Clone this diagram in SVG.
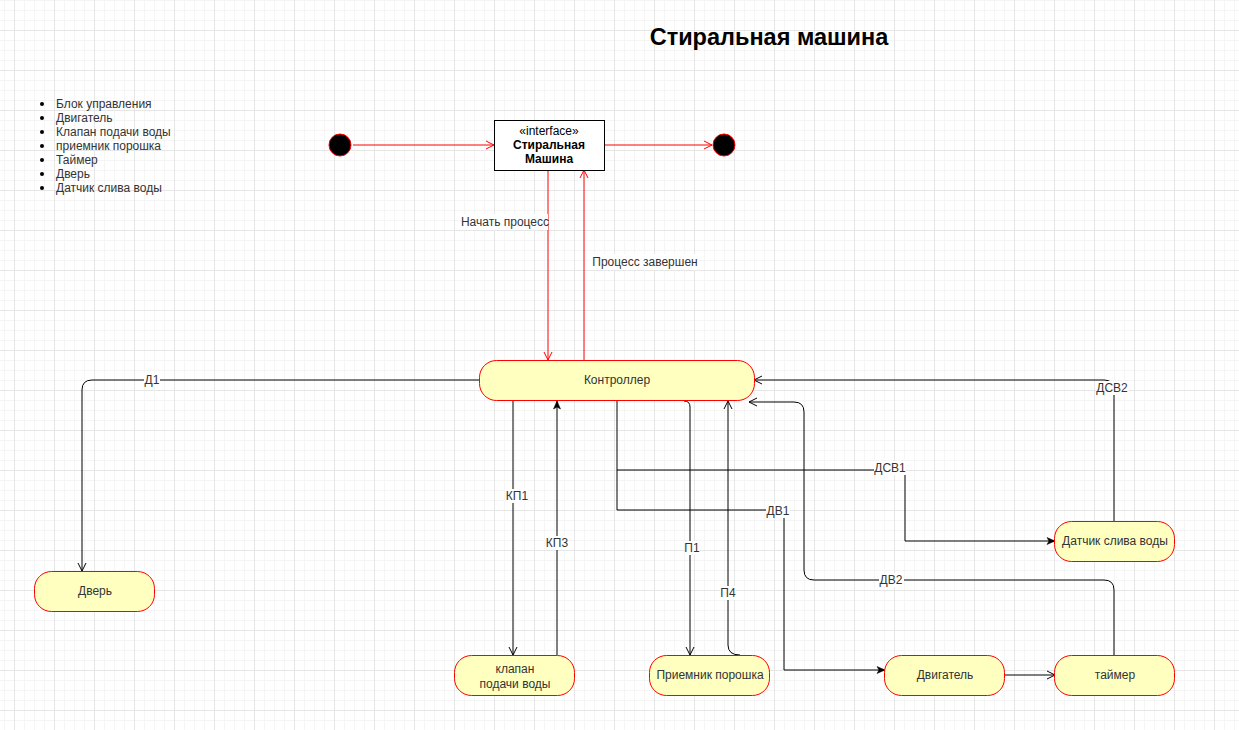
<svg xmlns="http://www.w3.org/2000/svg" width="1239" height="730" viewBox="0 0 1239 730">
<defs>
<pattern id="gMinor" x="4" y="0" width="10" height="10" patternUnits="userSpaceOnUse"><rect width="10" height="1" fill="#f5f5f5"/><rect width="1" height="10" fill="#f5f5f5"/></pattern>
<pattern id="gMajor" x="14" y="30" width="40" height="40" patternUnits="userSpaceOnUse"><rect width="40" height="1" fill="#e6e6e6"/><rect width="1" height="40" fill="#e6e6e6"/></pattern>
<marker id="openB" viewBox="0 0 10 10" refX="9" refY="5" markerWidth="10" markerHeight="10" markerUnits="userSpaceOnUse" orient="auto"><path d="M1 1 L9 5 L1 9" fill="none" stroke="#000" stroke-width="1"/></marker>
<marker id="openR" viewBox="0 0 10 10" refX="9" refY="5" markerWidth="10" markerHeight="10" markerUnits="userSpaceOnUse" orient="auto"><path d="M1 1 L9 5 L1 9" fill="none" stroke="#ff0000" stroke-width="1"/></marker>
<marker id="blockB" viewBox="0 0 10 10" refX="9" refY="5" markerWidth="10" markerHeight="10" markerUnits="userSpaceOnUse" orient="auto"><path d="M1 1.5 L9 5 L1 8.5 L3 5 Z" fill="#000" stroke="#000" stroke-width="0.5"/></marker>
</defs>
<style>
text{font-family:"Liberation Sans",Arial,sans-serif;font-size:12px;fill:#333}
.title{font-size:23.5px;font-weight:bold;fill:#000}
.bold{font-weight:bold;fill:#000}
.c{text-anchor:middle}
.state{fill:#ffffc0;stroke:#ff0000;stroke-width:1}
.edge{fill:none;stroke:#000;stroke-width:1}
.red{fill:none;stroke:#ff0000;stroke-width:1}
.lbg{fill:#fff}
</style>
<rect width="1239" height="730" fill="#fff"/>
<rect width="1239" height="730" fill="url(#gMinor)"/>
<rect width="1239" height="730" fill="url(#gMajor)"/>

<text class="title c" x="769" y="45">Стиральная машина</text>

<g id="list">
<circle cx="42" cy="104" r="2" fill="#000"/><text x="56" y="108">Блок управления</text>
<circle cx="42" cy="118" r="2" fill="#000"/><text x="56" y="122">Двигатель</text>
<circle cx="42" cy="132" r="2" fill="#000"/><text x="56" y="136">Клапан подачи воды</text>
<circle cx="42" cy="146" r="2" fill="#000"/><text x="56" y="150">приемник порошка</text>
<circle cx="42" cy="160" r="2" fill="#000"/><text x="56" y="164">Таймер</text>
<circle cx="42" cy="174" r="2" fill="#000"/><text x="56" y="178">Дверь</text>
<circle cx="42" cy="188" r="2" fill="#000"/><text x="56" y="192">Датчик слива воды</text>
</g>

<g id="connectors">
<path class="red" d="M353 145 H494" marker-end="url(#openR)"/>
<path class="red" d="M604 145 H712" marker-end="url(#openR)"/>
<path class="red" d="M548 170 V360" marker-end="url(#openR)"/>
<path class="red" d="M584 360 V170" marker-end="url(#openR)"/>
<path class="edge" d="M480 380 H92 Q82 380 82 390 V571" marker-end="url(#openB)"/>
<path class="edge" d="M513 401 V655" marker-end="url(#openB)"/>
<path class="edge" d="M557 655 V401" marker-end="url(#blockB)"/>
<path class="edge" d="M684 401 Q690 401 690 407 V655" marker-end="url(#openB)"/>
<path class="edge" d="M740 655 Q728 655 728 645 V401" marker-end="url(#openB)"/>
<path class="edge" d="M617 401 V470 H905 V541 H1055" marker-end="url(#blockB)"/>
<path class="edge" d="M617 470 V510 H784 V670 H885" marker-end="url(#blockB)"/>
<path class="edge" d="M1114 521 V390 Q1114 380 1104 380 H754" marker-end="url(#openB)"/>
<path class="edge" d="M1114 655 V590 Q1114 580 1104 580 H814 Q804 580 804 570 V412 Q804 402 794 402 H749" marker-end="url(#openB)"/>
<path class="edge" d="M1005 675 H1055" marker-end="url(#openB)"/>

<rect class="lbg" x="461" y="214" width="87" height="16"/><text class="c" x="505" y="226">Начать процесс</text>
<rect class="lbg" x="591" y="254" width="108" height="16"/><text class="c" x="645" y="266">Процесс завершен</text>
<rect class="lbg" x="144" y="373" width="16" height="14"/><text class="c" x="152" y="384">Д1</text>
<rect class="lbg" x="506" y="489" width="22" height="14"/><text class="c" x="517" y="500">КП1</text>
<rect class="lbg" x="546" y="536" width="22" height="14"/><text class="c" x="557" y="547">КП3</text>
<rect class="lbg" x="685" y="541" width="15" height="14"/><text class="c" x="692" y="552">П1</text>
<rect class="lbg" x="720" y="586" width="16" height="14"/><text class="c" x="728" y="597">П4</text>
<rect class="lbg" x="874" y="461" width="32" height="14"/><text class="c" x="890" y="472">ДСВ1</text>
<rect class="lbg" x="766" y="504" width="24" height="14"/><text class="c" x="778" y="515">ДВ1</text>
<rect class="lbg" x="879" y="573" width="25" height="14"/><text class="c" x="891" y="584">ДВ2</text>
<rect class="lbg" x="1096" y="381" width="33" height="14"/><text class="c" x="1112" y="392">ДСВ2</text>
</g>

<g id="start"><circle cx="340" cy="145" r="11" fill="#000" stroke="#ff0000"/></g>
<g id="end"><circle cx="724" cy="145" r="11" fill="#000" stroke="#ff0000"/></g>
<g id="iface">
<rect x="494.5" y="120.5" width="110" height="50" fill="#fff" stroke="#000"/>
<text class="c" x="549" y="135" style="fill:#000">«interface»</text>
<text class="c bold" x="549" y="149">Стиральная</text>
<text class="c bold" x="549" y="163">Машина</text>
</g>
<g id="controller"><rect class="state" x="479.5" y="360.5" width="275" height="40" rx="17"/><text class="c" x="617" y="384">Контроллер</text></g>
<g id="door"><rect class="state" x="34.5" y="571.5" width="120" height="40" rx="17"/><text class="c" x="95" y="595">Дверь</text></g>
<g id="valve"><rect class="state" x="454.5" y="655.5" width="120" height="40" rx="17"/><text class="c" x="515" y="673">клапан</text><text class="c" x="515" y="688">подачи воды</text></g>
<g id="powder"><rect class="state" x="649.5" y="655.5" width="120" height="40" rx="17"/><text class="c" x="710" y="679">Приемник порошка</text></g>
<g id="sensor"><rect class="state" x="1054.5" y="521.5" width="120" height="40" rx="17"/><text class="c" x="1115" y="545">Датчик слива воды</text></g>
<g id="motor"><rect class="state" x="884.5" y="655.5" width="120" height="40" rx="17"/><text class="c" x="945" y="679">Двигатель</text></g>
<g id="timer"><rect class="state" x="1054.5" y="655.5" width="120" height="40" rx="17"/><text class="c" x="1115" y="679">таймер</text></g>
</svg>
